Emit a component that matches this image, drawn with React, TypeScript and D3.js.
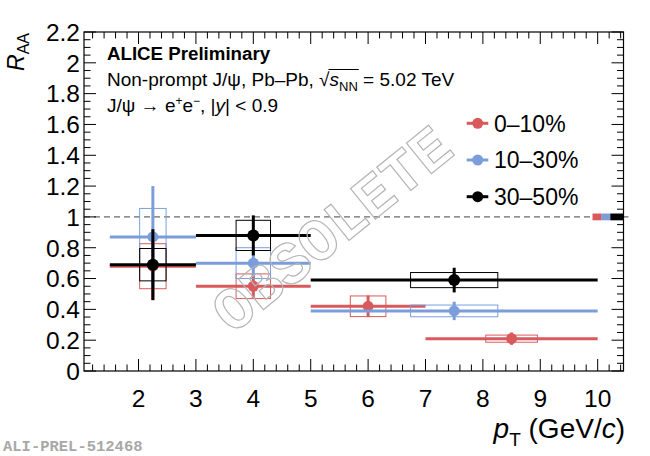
import * as d3 from 'd3'
import * as React from 'react'
import { useEffect, useRef } from 'react'

// centrality classes
const classes = ['0–10%', '10–30%', '30–50%']
const colors = ['#d95a5c', '#7b9edb', '#000000']

// 0-10%
const redX = [2.25, 4, 6, 8.5]
const redLow = [1.5, 3, 5, 7]
const redHigh = [3, 5, 7, 10]
const redY = [0.68, 0.55, 0.42, 0.21]
const redStat = [0.22, 0.08, 0.07, 0.04]
const redSyst = [0.146, 0.08, 0.067, 0.023]
const redBoxW = [0.23, 0.3, 0.31, 0.45]

// 10-30%
const blueX = [2.25, 4, 7.5]
const blueLow = [1.5, 3, 5]
const blueHigh = [3, 5, 10]
const blueY = [0.87, 0.7, 0.39]
const blueStat = [0.33, 0.09, 0.06]
const blueSyst = [0.185, 0.1, 0.038]
const blueBoxW = [0.23, 0.3, 0.76]

// 30-50%
const blackX = [2.25, 4, 7.5]
const blackLow = [1.5, 3, 5]
const blackHigh = [3, 5, 10]
const blackY = [0.69, 0.88, 0.59]
const blackStat = [0.23, 0.13, 0.08]
const blackSyst = [0.105, 0.098, 0.049]
const blackBoxW = [0.23, 0.3, 0.76]

// global normalisation boxes at unity
const normX = [9.99, 10.145, 10.335]
const normW = [0.08, 0.075, 0.115]
const normUnc = [0.022, 0.022, 0.022]

const xTicks = [2, 3, 4, 5, 6, 7, 8, 9, 10]
const yTicks = [0, 0.2, 0.4, 0.6, 0.8, 1, 1.2, 1.4, 1.6, 1.8, 2, 2.2]

const W = 650
const H = 456
const FONT = '"Liberation Sans", Arial, Helvetica, sans-serif'
const MONO = '"Liberation Mono", "Courier New", monospace'

type Series = {
  x: number[], low: number[], high: number[], y: number[],
  stat: number[], syst: number[], boxW: number[], color: string, r: number
}

const series: Series[] = [
  { x: redX, low: redLow, high: redHigh, y: redY, stat: redStat, syst: redSyst, boxW: redBoxW, color: colors[0], r: 5.5 },
  { x: blueX, low: blueLow, high: blueHigh, y: blueY, stat: blueStat, syst: blueSyst, boxW: blueBoxW, color: colors[1], r: 5.5 },
  { x: blackX, low: blackLow, high: blackHigh, y: blackY, stat: blackStat, syst: blackSyst, boxW: blackBoxW, color: colors[2], r: 6 },
]

export default function App() {
  const node = useRef<SVGSVGElement>(null)

  useEffect(() => {
    const svg = d3.select(node.current!)
    svg.selectAll('*').remove()

    const left = 84, right = 623.5, top = 32, bottom = 371
    const x = d3.scaleLinear().domain([1.05, 10.45]).range([left, right])
    const y = d3.scaleLinear().domain([0, 2.2]).range([bottom, top])

    svg.append('rect').attr('width', W).attr('height', H).attr('fill', 'white')

    // unity line
    svg.append('line')
      .attr('x1', left).attr('x2', right + 5)
      .attr('y1', y(1)).attr('y2', y(1))
      .attr('stroke', '#444').attr('stroke-width', 1)
      .attr('stroke-dasharray', '6,4')

    // ticks (inside, all four sides)
    const ticks = svg.append('g').attr('stroke', '#000').attr('stroke-width', 1)
    const xMinor = d3.range(1.2, 10.45, 0.2).map(v => +v.toFixed(2))
    xMinor.forEach(v => {
      const major = Math.abs(v - Math.round(v)) < 1e-6
      const len = major ? 12 : 6.5
      ticks.append('line').attr('x1', x(v)).attr('x2', x(v)).attr('y1', bottom).attr('y2', bottom - len)
      ticks.append('line').attr('x1', x(v)).attr('x2', x(v)).attr('y1', top).attr('y2', top + len)
    })
    const yMinor = d3.range(0, 2.2001, 0.05).map(v => +v.toFixed(2))
    yMinor.forEach(v => {
      const major = Math.abs(v * 5 - Math.round(v * 5)) < 1e-6
      const len = major ? 12 : 6.5
      ticks.append('line').attr('x1', left).attr('x2', left + len).attr('y1', y(v)).attr('y2', y(v))
      ticks.append('line').attr('x1', right).attr('x2', right - len).attr('y1', y(v)).attr('y2', y(v))
    })

    svg.append('rect')
      .attr('x', left).attr('y', top)
      .attr('width', right - left).attr('height', bottom - top)
      .attr('fill', 'none').attr('stroke', '#000').attr('stroke-width', 1.2)

    // tick labels
    svg.append('g').selectAll('text').data(yTicks).enter().append('text')
      .attr('x', 80).attr('y', d => y(d)).attr('dy', '0.36em')
      .attr('text-anchor', 'end').attr('font-family', FONT).attr('font-size', 24.5)
      .text(d => d3.format('~g')(d))
    svg.append('g').selectAll('text').data(xTicks).enter().append('text')
      .attr('x', d => x(d)).attr('y', 407)
      .attr('text-anchor', 'middle').attr('font-family', FONT).attr('font-size', 24.5)
      .text(d => d)

    // normalisation boxes
    normX.forEach((v, i) => {
      svg.append('rect')
        .attr('x', x(v - normW[i])).attr('width', x(v + normW[i]) - x(v - normW[i]))
        .attr('y', y(1 + normUnc[i])).attr('height', y(1 - normUnc[i]) - y(1 + normUnc[i]))
        .attr('fill', colors[i])
    })

    // data
    series.forEach(s => {
      const g = svg.append('g')
      s.x.forEach((v, i) => {
        g.append('rect')
          .attr('x', x(v - s.boxW[i])).attr('width', x(v + s.boxW[i]) - x(v - s.boxW[i]))
          .attr('y', y(s.y[i] + s.syst[i])).attr('height', y(s.y[i] - s.syst[i]) - y(s.y[i] + s.syst[i]))
          .attr('fill', 'none').attr('stroke', s.color).attr('stroke-width', 1)
        g.append('line')
          .attr('x1', x(s.low[i])).attr('x2', x(s.high[i]))
          .attr('y1', y(s.y[i])).attr('y2', y(s.y[i]))
          .attr('stroke', s.color).attr('stroke-width', 3)
        g.append('line')
          .attr('x1', x(v)).attr('x2', x(v))
          .attr('y1', y(s.y[i] - s.stat[i])).attr('y2', y(s.y[i] + s.stat[i]))
          .attr('stroke', s.color).attr('stroke-width', 3)
        g.append('circle')
          .attr('cx', x(v)).attr('cy', y(s.y[i])).attr('r', s.r)
          .attr('fill', s.color)
      })
    })

    // legend
    classes.forEach((c, i) => {
      const ly = 123.3 + i * 36.7
      svg.append('line').attr('x1', 466.7).attr('x2', 488.3).attr('y1', ly).attr('y2', ly)
        .attr('stroke', colors[i]).attr('stroke-width', 3)
      svg.append('circle').attr('cx', 477.7).attr('cy', ly).attr('r', 5.5).attr('fill', colors[i])
      svg.append('text').attr('x', 494).attr('y', ly).attr('dy', '0.36em')
        .attr('font-family', FONT).attr('font-size', 23).text(c)
    })

    // header texts
    svg.append('text').attr('x', 107).attr('y', 60)
      .attr('font-family', FONT).attr('font-size', 18.7).attr('font-weight', 'bold')
      .text('ALICE Preliminary')

    const segs = (yy: number, parts: { t: string, it?: boolean, dy?: number, fs?: number, over?: boolean }[]) => {
      let cx = 107
      parts.forEach(p => {
        const t = svg.append('text').attr('x', cx).attr('y', yy + (p.dy || 0))
          .attr('font-family', FONT).attr('font-size', p.fs || 19)
          .attr('font-style', p.it ? 'italic' : 'normal')
          .text(p.t)
        const w = (t.node() as SVGTextElement).getComputedTextLength()
        if (p.over) {
          svg.append('line').attr('x1', cx - 1).attr('x2', cx + w + 1)
            .attr('y1', 69.5).attr('y2', 69.5).attr('stroke', '#000').attr('stroke-width', 1)
        }
        cx += w
      })
    }
    segs(86, [
      { t: 'Non-prompt J/ψ, Pb–Pb,\u00a0' },
      { t: '√' },
      { t: 's', it: true, over: true },
      { t: 'NN', dy: 4.5, fs: 13, over: true },
      { t: '\u00a0= 5.02 TeV' },
    ])
    segs(112, [
      { t: 'J/ψ \u2192 e' },
      { t: '+', dy: -7, fs: 12 },
      { t: 'e' },
      { t: '\u2212', dy: -7, fs: 12 },
      { t: ', |' },
      { t: 'y', it: true },
      { t: '| < 0.9' },
    ])

    // axis titles
    const xt = svg.append('text').attr('x', 625).attr('y', 438)
      .attr('text-anchor', 'end').attr('font-family', FONT).attr('font-size', 28)
    xt.append('tspan').attr('font-style', 'italic').text('p')
    xt.append('tspan').attr('font-size', 19).attr('dy', 8).text('T')
    xt.append('tspan').attr('dy', -8).text('\u00a0(GeV/')
    xt.append('tspan').attr('font-style', 'italic').text('c')
    xt.append('tspan').text(')')

    const yt = svg.append('text').attr('transform', 'translate(24,33) rotate(-90)')
      .attr('text-anchor', 'end').attr('font-family', FONT).attr('font-size', 23)
    yt.append('tspan').attr('font-style', 'italic').text('R')
    yt.append('tspan').attr('font-size', 16).attr('dy', 5).text('AA')

    // watermark
    svg.append('text')
      .attr('transform', 'translate(331,228) rotate(-39)')
      .attr('text-anchor', 'middle').attr('dy', '0.35em')
      .attr('font-family', MONO)
      .attr('font-weight', 'bold').attr('font-size', 60)
      .attr('fill', 'none').attr('stroke', '#b5b5b5').attr('stroke-width', 1.2)
      .text('OBSOLETE')

    svg.append('text').attr('x', 3).attr('y', 451)
      .attr('font-family', MONO)
      .attr('font-weight', 'bold').attr('font-size', 15.5).attr('fill', '#a8a8a8')
      .text('ALI-PREL-512468')
  }, [])

  return (
    <svg ref={node} width={W} height={H} style={{ position: 'absolute', left: 0, top: 0 }} />
  )
}
